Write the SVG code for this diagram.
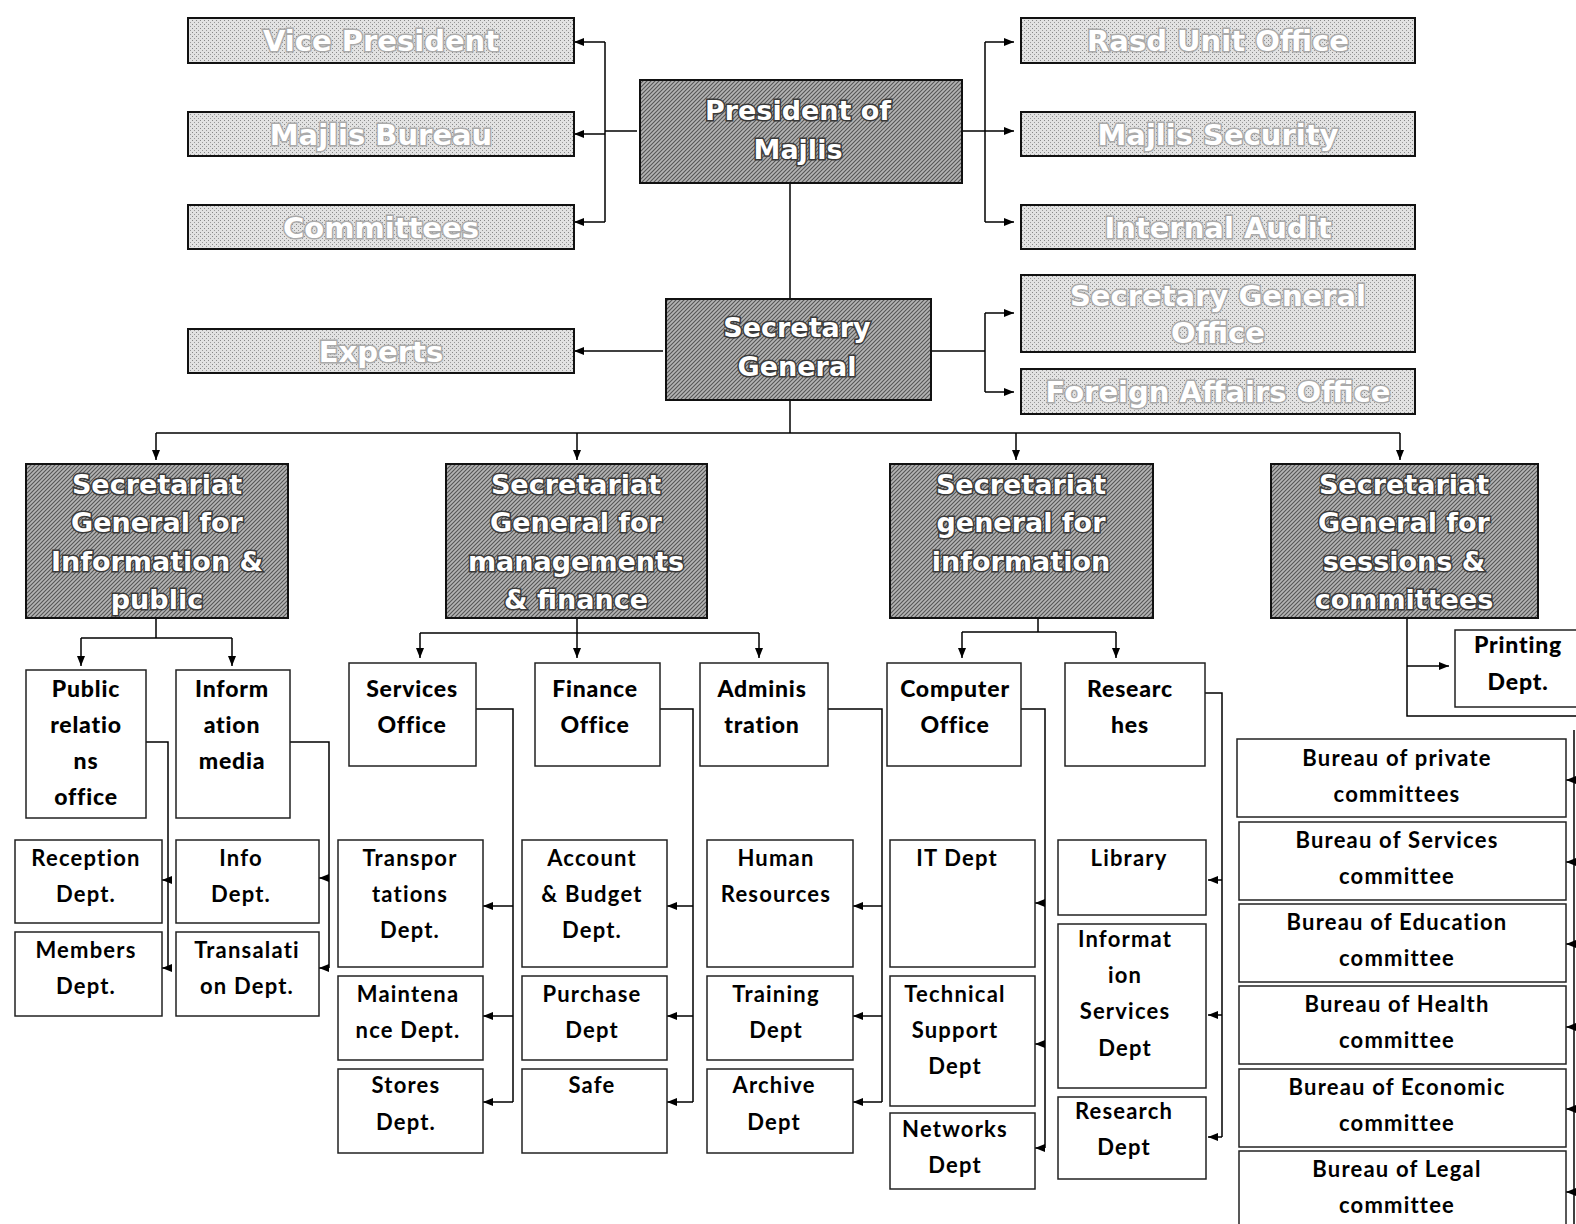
<svg xmlns="http://www.w3.org/2000/svg" width="1576" height="1224" viewBox="0 0 1576 1224">
<defs>
<pattern id="hatch" width="4" height="4" patternUnits="userSpaceOnUse">
<rect width="4" height="4" fill="#b4b4b4"/>
<path d="M0,4 L4,0 M-1,1 L1,-1 M3,5 L5,3" stroke="#555" stroke-width="1.1"/>
</pattern>
<pattern id="dots" width="4" height="4" patternUnits="userSpaceOnUse">
<rect width="4" height="4" fill="#e2e2e2"/>
<rect x="0" y="0" width="1" height="1" fill="#888"/>
<rect x="2" y="2" width="1" height="1" fill="#999"/>
</pattern>
<marker id="arr" markerWidth="10" markerHeight="8" refX="10" refY="4" orient="auto" markerUnits="userSpaceOnUse">
<path d="M0,0 L10,4 L0,8 Z" fill="#000"/>
</marker>
</defs>
<style>
.light{fill:url(#dots);stroke:#111;stroke-width:2}
.dark{fill:url(#hatch);stroke:#111;stroke-width:2}
.box{fill:#fff;stroke:#222;stroke-width:1.5}
.lt{font-family:"DejaVu Sans",sans-serif;font-weight:bold;font-size:29px;fill:#fff;stroke:#aaa;stroke-width:3;paint-order:stroke;text-anchor:middle}
.dt{font-family:"DejaVu Sans",sans-serif;font-weight:bold;font-size:27px;fill:#fff;stroke:#3a3a3a;stroke-width:3;paint-order:stroke;text-anchor:middle}
.ht{font-family:Lato,"Open Sans",sans-serif;font-weight:900;font-size:23px;fill:#000;text-anchor:middle;letter-spacing:0.8px}
.ft{font-family:Lato,"Open Sans",sans-serif;font-weight:bold;font-size:22px;fill:#000;text-anchor:middle;letter-spacing:1.2px}
.con path{fill:none;stroke:#000;stroke-width:1.5}
</style>
<rect width="1576" height="1224" fill="#fff"/>

<g class="con">
<path d="M637,131 H605"/>
<path d="M605,42 V222"/>
<path d="M605,42 H574" marker-end="url(#arr)"/>
<path d="M605,134 H574" marker-end="url(#arr)"/>
<path d="M605,222 H574" marker-end="url(#arr)"/>
<path d="M959,131 H985"/>
<path d="M985,42 V222"/>
<path d="M985,42 H1014" marker-end="url(#arr)"/>
<path d="M985,131 H1014" marker-end="url(#arr)"/>
<path d="M985,222 H1014" marker-end="url(#arr)"/>
<path d="M790,183 V298"/>
<path d="M663,351 H574" marker-end="url(#arr)"/>
<path d="M928,351 H985"/>
<path d="M985,313 V392"/>
<path d="M985,313 H1014" marker-end="url(#arr)"/>
<path d="M985,392 H1014" marker-end="url(#arr)"/>
<path d="M790,400 V433"/>
<path d="M156,433 H1400"/>
<path d="M156,433 V460" marker-end="url(#arr)"/>
<path d="M577,433 V460" marker-end="url(#arr)"/>
<path d="M1016,433 V460" marker-end="url(#arr)"/>
<path d="M1400,433 V460" marker-end="url(#arr)"/>

<path d="M156,617 V638"/>
<path d="M81,638 H232"/>
<path d="M81,638 V666" marker-end="url(#arr)"/>
<path d="M232,638 V666" marker-end="url(#arr)"/>
<path d="M146,742 H168 V968"/>
<path d="M168,880 H162" marker-end="url(#arr)"/>
<path d="M168,968 H162" marker-end="url(#arr)"/>
<path d="M290,742 H329 V968"/>
<path d="M329,878 H319" marker-end="url(#arr)"/>
<path d="M329,968 H319" marker-end="url(#arr)"/>

<path d="M577,617 V633"/>
<path d="M420,633 H759"/>
<path d="M420,633 V658" marker-end="url(#arr)"/>
<path d="M577,633 V658" marker-end="url(#arr)"/>
<path d="M759,633 V658" marker-end="url(#arr)"/>
<path d="M476,709 H513 V1102"/>
<path d="M513,906 H483" marker-end="url(#arr)"/>
<path d="M513,1016 H483" marker-end="url(#arr)"/>
<path d="M513,1102 H483" marker-end="url(#arr)"/>
<path d="M660,709 H693 V1102"/>
<path d="M693,906 H667" marker-end="url(#arr)"/>
<path d="M693,1016 H667" marker-end="url(#arr)"/>
<path d="M693,1102 H667" marker-end="url(#arr)"/>
<path d="M828,709 H882 V1102"/>
<path d="M882,906 H853" marker-end="url(#arr)"/>
<path d="M882,1016 H853" marker-end="url(#arr)"/>
<path d="M882,1102 H853" marker-end="url(#arr)"/>

<path d="M1038,617 V632"/>
<path d="M962,632 H1116"/>
<path d="M962,632 V658" marker-end="url(#arr)"/>
<path d="M1116,632 V658" marker-end="url(#arr)"/>
<path d="M1021,709 H1045 V1148"/>
<path d="M1045,903 H1035" marker-end="url(#arr)"/>
<path d="M1045,1044 H1035" marker-end="url(#arr)"/>
<path d="M1045,1148 H1035" marker-end="url(#arr)"/>
<path d="M1205,693 H1222 V1137"/>
<path d="M1222,880 H1208" marker-end="url(#arr)"/>
<path d="M1222,1015 H1208" marker-end="url(#arr)"/>
<path d="M1222,1137 H1208" marker-end="url(#arr)"/>

<path d="M1407,617 V716 H1576"/>
<path d="M1407,666 H1449" marker-end="url(#arr)"/>
<path d="M1574,730 V1224"/>
<path d="M1574,780 H1566" marker-end="url(#arr)"/>
<path d="M1574,862 H1566" marker-end="url(#arr)"/>
<path d="M1574,944 H1566" marker-end="url(#arr)"/>
<path d="M1574,1027 H1566" marker-end="url(#arr)"/>
<path d="M1574,1109 H1566" marker-end="url(#arr)"/>
<path d="M1574,1192 H1566" marker-end="url(#arr)"/>
</g>

<g id="vice-president"><rect class="light" x="188" y="18" width="386" height="45"/><text class="lt" x="381" y="51">Vice President</text></g>
<g id="majlis-bureau"><rect class="light" x="188" y="112" width="386" height="44"/><text class="lt" x="381" y="145">Majlis Bureau</text></g>
<g id="committees"><rect class="light" x="188" y="205" width="386" height="44"/><text class="lt" x="381" y="238">Committees</text></g>
<g id="experts"><rect class="light" x="188" y="329" width="386" height="44"/><text class="lt" x="381" y="362">Experts</text></g>
<g id="rasd-unit-office"><rect class="light" x="1021" y="18" width="394" height="45"/><text class="lt" x="1218" y="51">Rasd Unit Office</text></g>
<g id="majlis-security"><rect class="light" x="1021" y="112" width="394" height="44"/><text class="lt" x="1218" y="145">Majlis Security</text></g>
<g id="internal-audit"><rect class="light" x="1021" y="205" width="394" height="44"/><text class="lt" x="1218" y="238">Internal Audit</text></g>
<g id="sg-office"><rect class="light" x="1021" y="275" width="394" height="77"/><text class="lt" x="1218" y="306">Secretary General<tspan x="1218" y="343">Office</tspan></text></g>
<g id="foreign-affairs"><rect class="light" x="1021" y="369" width="394" height="45"/><text class="lt" x="1218" y="402">Foreign Affairs Office</text></g>

<g id="president"><rect class="dark" x="640" y="80" width="322" height="103"/><text class="dt" x="798" y="120">President of<tspan x="798" y="159">Majlis</tspan></text></g>
<g id="secretary-general"><rect class="dark" x="666" y="299" width="265" height="101"/><text class="dt" x="797" y="337">Secretary<tspan x="797" y="376">General</tspan></text></g>

<g id="sg-info-public"><rect class="dark" x="26" y="464" width="262" height="154"/><text class="dt" x="157" y="494">Secretariat<tspan x="157" y="532">General for</tspan><tspan x="157" y="571">Information &amp;</tspan><tspan x="157" y="609">public</tspan></text></g>
<g id="sg-management-finance"><rect class="dark" x="446" y="464" width="261" height="154"/><text class="dt" x="576" y="494">Secretariat<tspan x="576" y="532">General for</tspan><tspan x="576" y="571">managements</tspan><tspan x="576" y="609">&amp; finance</tspan></text></g>
<g id="sg-information"><rect class="dark" x="890" y="464" width="263" height="154"/><text class="dt" x="1021" y="494">Secretariat<tspan x="1021" y="532">general for</tspan><tspan x="1021" y="571">information</tspan></text></g>
<g id="sg-sessions-committees"><rect class="dark" x="1271" y="464" width="267" height="154"/><text class="dt" x="1404" y="494">Secretariat<tspan x="1404" y="532">General for</tspan><tspan x="1404" y="571">sessions &amp;</tspan><tspan x="1404" y="609">committees</tspan></text></g>

<g id="public-relations"><rect class="box" x="26" y="670" width="120" height="148"/><text class="ht" x="86" y="697">Public<tspan x="86" y="733">relatio</tspan><tspan x="86" y="769">ns</tspan><tspan x="86" y="805">office</tspan></text></g>
<g id="information-media"><rect class="box" x="176" y="670" width="114" height="148"/><text class="ht" x="232" y="697">Inform<tspan x="232" y="733">ation</tspan><tspan x="232" y="769">media</tspan></text></g>
<g id="reception"><rect class="box" x="15" y="840" width="147" height="83"/><text class="ft" x="86" y="866">Reception<tspan x="86" y="902">Dept.</tspan></text></g>
<g id="members"><rect class="box" x="15" y="932" width="147" height="84"/><text class="ft" x="86" y="958">Members<tspan x="86" y="994">Dept.</tspan></text></g>
<g id="info-dept"><rect class="box" x="176" y="840" width="143" height="83"/><text class="ft" x="241" y="866">Info<tspan x="241" y="902">Dept.</tspan></text></g>
<g id="translation"><rect class="box" x="176" y="932" width="143" height="84"/><text class="ft" x="247" y="958">Transalati<tspan x="247" y="994">on Dept.</tspan></text></g>

<g id="services-office"><rect class="box" x="349" y="663" width="127" height="103"/><text class="ht" x="412" y="697">Services<tspan x="412" y="733">Office</tspan></text></g>
<g id="finance-office"><rect class="box" x="535" y="663" width="125" height="103"/><text class="ht" x="595" y="697">Finance<tspan x="595" y="733">Office</tspan></text></g>
<g id="administration"><rect class="box" x="700" y="663" width="128" height="103"/><text class="ht" x="762" y="697">Adminis<tspan x="762" y="733">tration</tspan></text></g>
<g id="transportations"><rect class="box" x="338" y="840" width="145" height="127"/><text class="ft" x="410" y="866">Transpor<tspan x="410" y="902">tations</tspan><tspan x="410" y="938">Dept.</tspan></text></g>
<g id="maintenance"><rect class="box" x="338" y="976" width="145" height="84"/><text class="ft" x="408" y="1002">Maintena<tspan x="408" y="1038">nce Dept.</tspan></text></g>
<g id="stores"><rect class="box" x="338" y="1069" width="145" height="84"/><text class="ft" x="406" y="1093">Stores<tspan x="406" y="1130">Dept.</tspan></text></g>
<g id="account-budget"><rect class="box" x="522" y="840" width="145" height="127"/><text class="ft" x="592" y="866">Account<tspan x="592" y="902">&amp; Budget</tspan><tspan x="592" y="938">Dept.</tspan></text></g>
<g id="purchase"><rect class="box" x="522" y="976" width="145" height="84"/><text class="ft" x="592" y="1002">Purchase<tspan x="592" y="1038">Dept</tspan></text></g>
<g id="safe"><rect class="box" x="522" y="1069" width="145" height="84"/><text class="ft" x="592" y="1093">Safe</text></g>
<g id="human-resources"><rect class="box" x="707" y="840" width="146" height="127"/><text class="ft" x="776" y="866">Human<tspan x="776" y="902">Resources</tspan></text></g>
<g id="training"><rect class="box" x="707" y="976" width="146" height="84"/><text class="ft" x="776" y="1002">Training<tspan x="776" y="1038">Dept</tspan></text></g>
<g id="archive"><rect class="box" x="707" y="1069" width="146" height="84"/><text class="ft" x="774" y="1093">Archive<tspan x="774" y="1130">Dept</tspan></text></g>

<g id="computer-office"><rect class="box" x="887" y="663" width="134" height="103"/><text class="ht" x="955" y="697">Computer<tspan x="955" y="733">Office</tspan></text></g>
<g id="researches"><rect class="box" x="1065" y="663" width="140" height="103"/><text class="ht" x="1130" y="697">Researc<tspan x="1130" y="733">hes</tspan></text></g>
<g id="it-dept"><rect class="box" x="890" y="840" width="145" height="127"/><text class="ft" x="957" y="866">IT Dept</text></g>
<g id="technical-support"><rect class="box" x="890" y="976" width="145" height="130"/><text class="ft" x="955" y="1002">Technical<tspan x="955" y="1038">Support</tspan><tspan x="955" y="1074">Dept</tspan></text></g>
<g id="networks"><rect class="box" x="890" y="1113" width="145" height="76"/><text class="ft" x="955" y="1137">Networks<tspan x="955" y="1173">Dept</tspan></text></g>
<g id="library"><rect class="box" x="1058" y="840" width="148" height="75"/><text class="ft" x="1129" y="866">Library</text></g>
<g id="information-services"><rect class="box" x="1058" y="924" width="148" height="164"/><text class="ft" x="1125" y="947">Informat<tspan x="1125" y="983">ion</tspan><tspan x="1125" y="1019">Services</tspan><tspan x="1125" y="1056">Dept</tspan></text></g>
<g id="research-dept"><rect class="box" x="1058" y="1097" width="148" height="82"/><text class="ft" x="1124" y="1119">Research<tspan x="1124" y="1155">Dept</tspan></text></g>

<g id="printing"><rect class="box" x="1455" y="630" width="124" height="77"/><text class="ht" x="1518" y="653">Printing<tspan x="1518" y="690">Dept.</tspan></text></g>
<g id="bureau-private"><rect class="box" x="1237" y="739" width="329" height="78"/><text class="ft" x="1397" y="766">Bureau of private<tspan x="1397" y="802">committees</tspan></text></g>
<g id="bureau-services"><rect class="box" x="1239" y="822" width="327" height="78"/><text class="ft" x="1397" y="848">Bureau of Services<tspan x="1397" y="884">committee</tspan></text></g>
<g id="bureau-education"><rect class="box" x="1239" y="904" width="327" height="78"/><text class="ft" x="1397" y="930">Bureau of Education<tspan x="1397" y="966">committee</tspan></text></g>
<g id="bureau-health"><rect class="box" x="1239" y="986" width="327" height="78"/><text class="ft" x="1397" y="1012">Bureau of Health<tspan x="1397" y="1048">committee</tspan></text></g>
<g id="bureau-economic"><rect class="box" x="1239" y="1069" width="327" height="78"/><text class="ft" x="1397" y="1095">Bureau of Economic<tspan x="1397" y="1131">committee</tspan></text></g>
<g id="bureau-legal"><rect class="box" x="1239" y="1151" width="327" height="78"/><text class="ft" x="1397" y="1177">Bureau of Legal<tspan x="1397" y="1213">committee</tspan></text></g>
</svg>
